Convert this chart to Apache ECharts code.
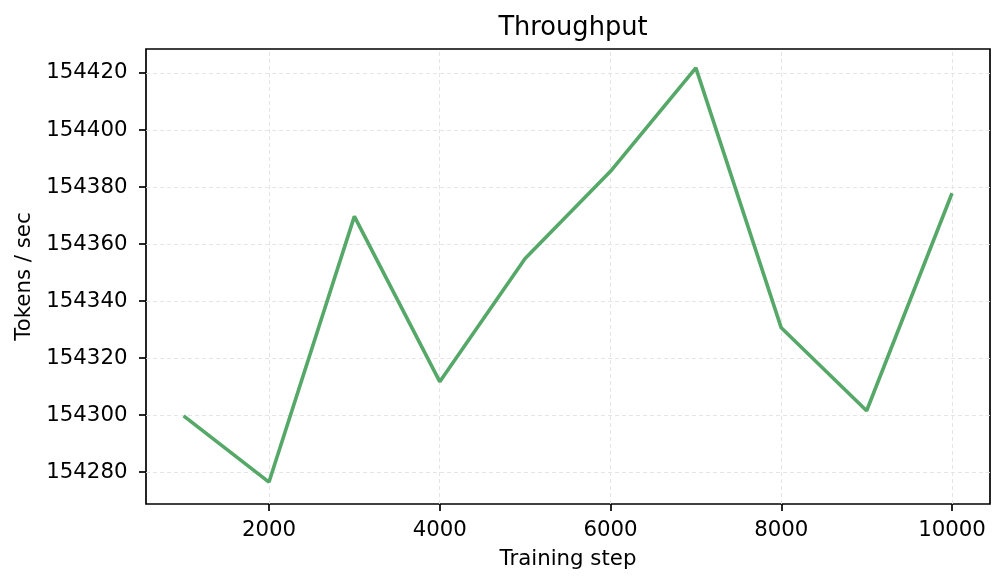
<!DOCTYPE html>
<html>
<head>
<meta charset="utf-8">
<script src="https://cdn.jsdelivr.net/npm/echarts@6/dist/echarts.min.js"></script>
<style>
html,body{margin:0;padding:0;background:#fff;}
#chart{width:1006px;height:584px;}
</style>
</head>
<body>
<div id="chart"></div>
<script>
const steps = [1000, 2000, 3000, 4000, 5000, 6000, 7000, 8000, 9000, 10000];
const throughput = [154299.7, 154276.5, 154369.7, 154311.7, 154354.9, 154385.5, 154421.8, 154330.6, 154301.5, 154377.8];
const xTicks = [2000, 4000, 6000, 8000, 10000];
const yTicks = [154280, 154300, 154320, 154340, 154360, 154380, 154400, 154420];

const FONT = 'DejaVu Sans';
const gridStyle = {color: '#e2e2e2', type: [4, 3], width: 0.9};

const chart = echarts.init(document.getElementById('chart'), null, {renderer: 'canvas'});
const gridLines = [];
xTicks.forEach(v => gridLines.push({xAxis: v}));
yTicks.forEach(v => gridLines.push({yAxis: v}));

chart.setOption({
  animation: false,
  backgroundColor: '#fff',
  title: {
    text: 'Throughput',
    left: 568, top: 10, textAlign: 'center',
    textStyle: {fontFamily: FONT, fontSize: 25.7, fontWeight: 'normal', color: '#000'}
  },
  grid: {
    left: 146, right: 16, top: 49, bottom: 80,
    show: true, borderColor: '#000', borderWidth: 1.7, backgroundColor: 'transparent'
  },
  xAxis: {
    type: 'value',
    min: 559.4, max: 10445,
    name: 'Training step',
    nameLocation: 'middle', nameGap: 45,
    nameTextStyle: {fontFamily: FONT, fontSize: 21.3, color: '#000'},
    axisLine: {show: false},
    axisTick: {show: true, customValues: xTicks, length: 7, lineStyle: {color: '#000', width: 1.7}},
    axisLabel: {customValues: xTicks, fontFamily: FONT, fontSize: 21.3, color: '#000', margin: 16, formatter: v => String(v)},
    splitLine: {show: false}
  },
  yAxis: {
    type: 'value',
    min: 154268.8, max: 154428.4,
    name: 'Tokens / sec',
    nameLocation: 'middle', nameGap: 106, nameRotate: 90,
    nameTextStyle: {fontFamily: FONT, fontSize: 21.3, color: '#000'},
    axisLine: {show: false},
    axisTick: {show: true, customValues: yTicks, length: 7, lineStyle: {color: '#000', width: 1.7}},
    axisLabel: {customValues: yTicks, fontFamily: FONT, fontSize: 21.3, color: '#000', margin: 18.5, formatter: v => String(v)},
    splitLine: {show: false}
  },
  series: [{
    type: 'line',
    data: steps.map((s, i) => [s, throughput[i]]),
    symbol: 'none',
    lineStyle: {color: '#55a868', width: 3.6},
    z: 3,
    markLine: {
      silent: true, symbol: 'none', label: {show: false},
      lineStyle: gridStyle,
      data: gridLines,
      z: 1
    }
  }]
});
</script>
</body>
</html>
